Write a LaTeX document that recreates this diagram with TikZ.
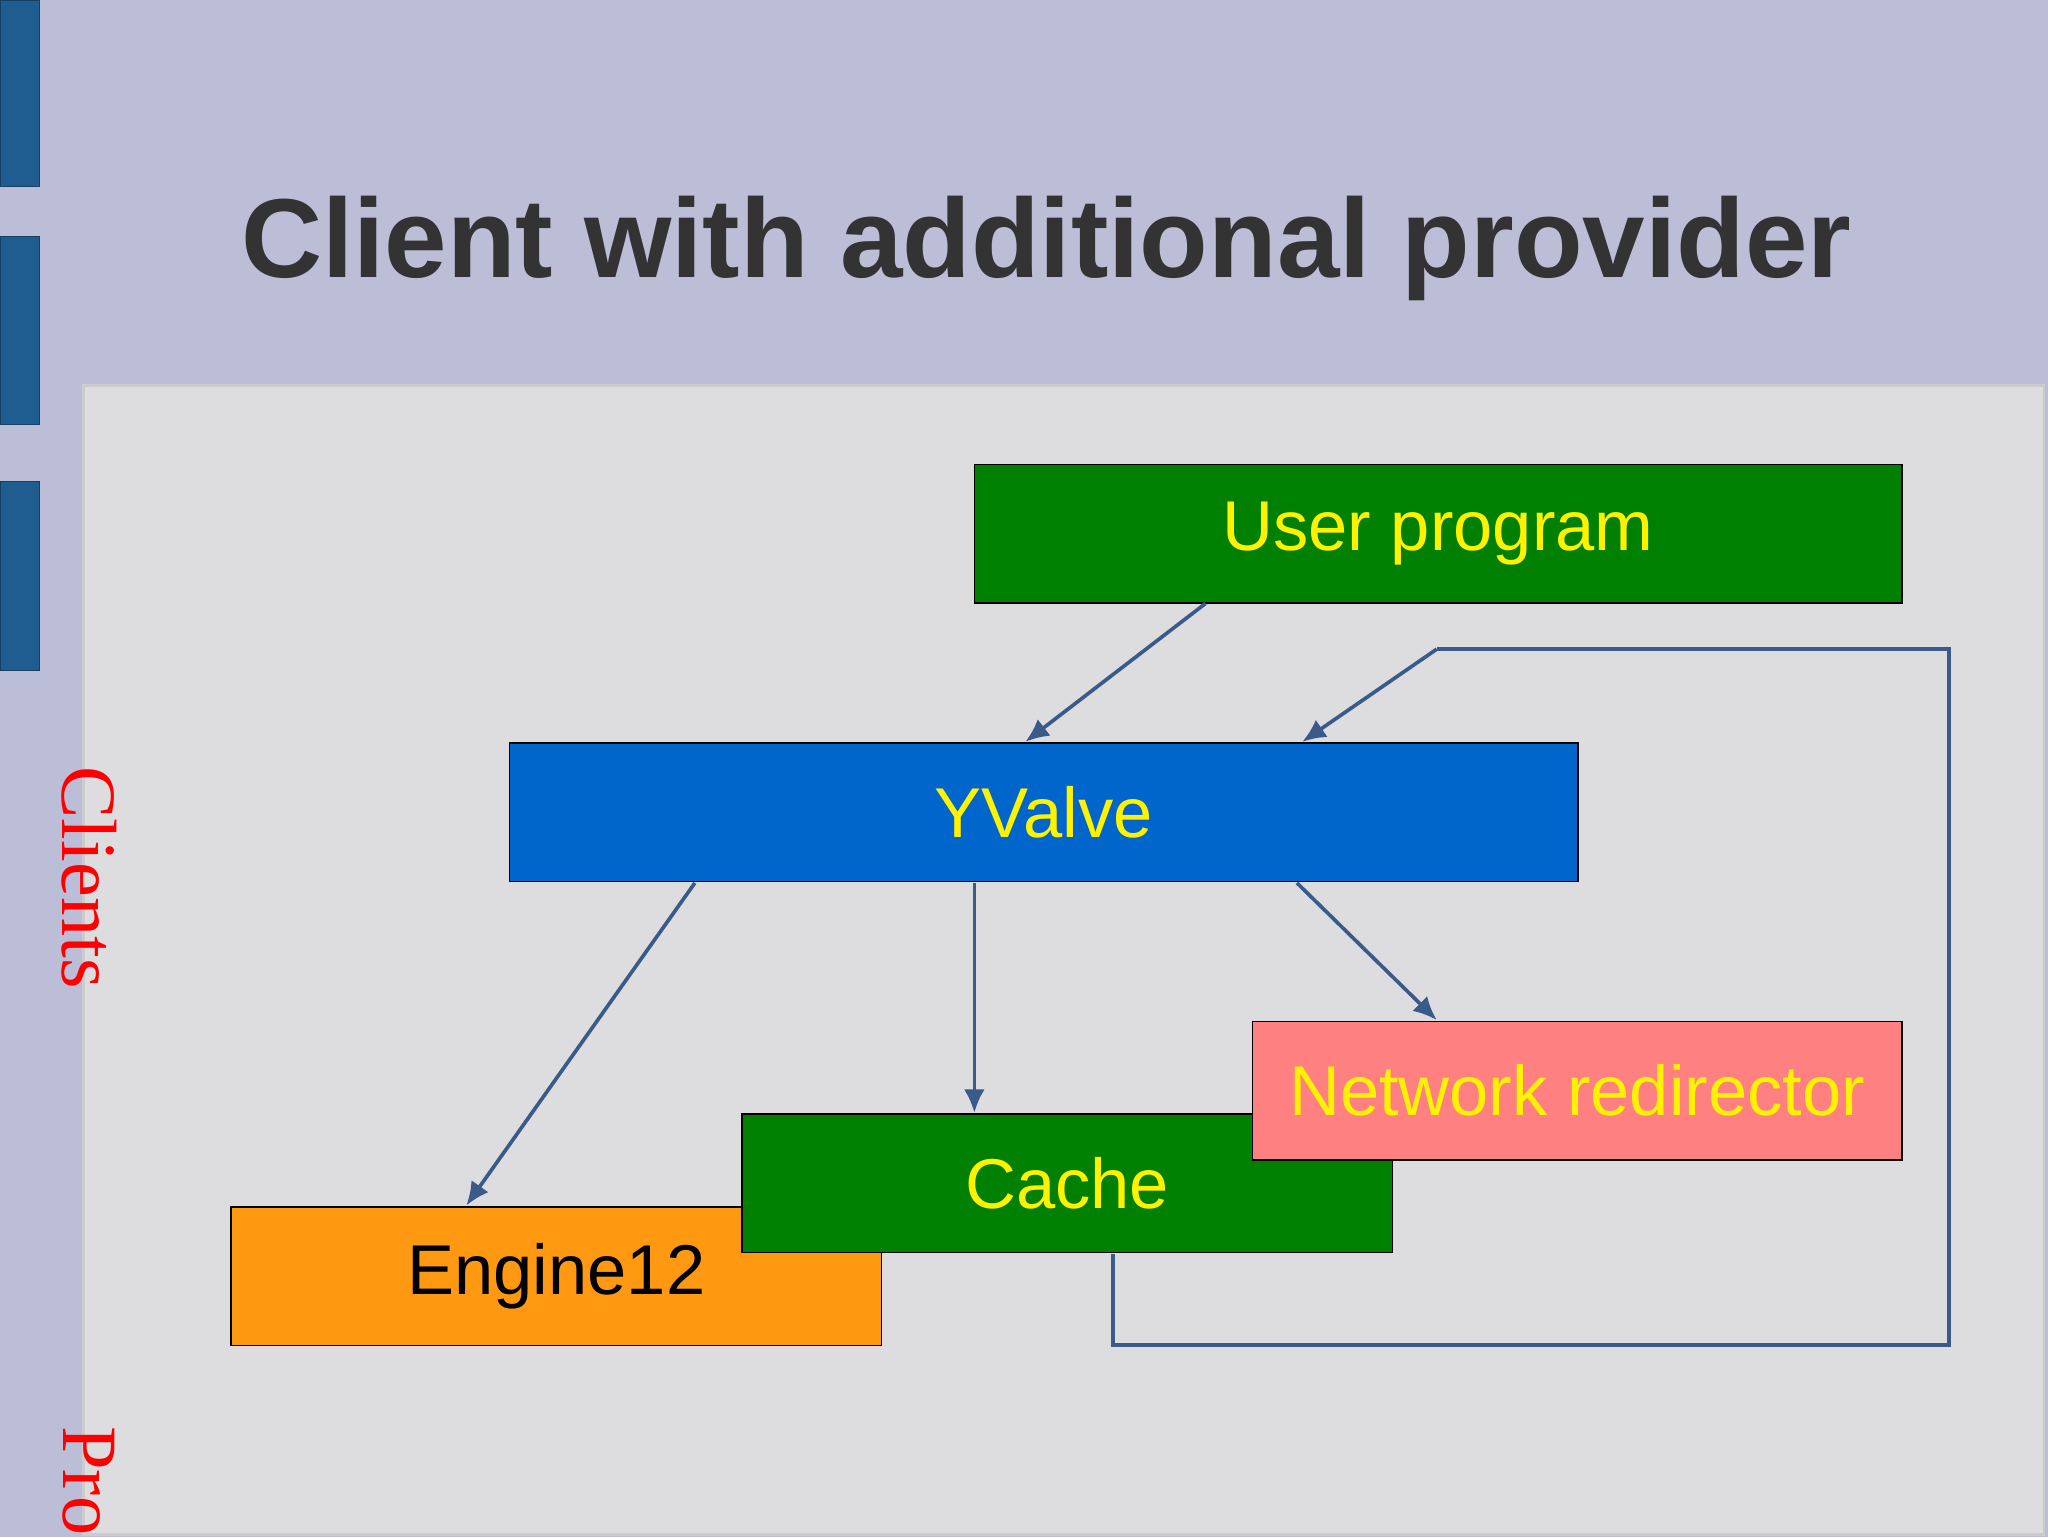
\documentclass[tikz,border=0pt]{standalone}
\usepackage{fontspec}
\setmainfont{Liberation Sans}
\newfontfamily\serifx{Liberation Serif}
\usetikzlibrary{arrows.meta}
\definecolor{band}{HTML}{BBBED6}
\definecolor{panel}{HTML}{DDDDE0}
\definecolor{bar}{HTML}{1F5C8F}
\definecolor{grn}{HTML}{008000}
\definecolor{blu}{HTML}{0066CC}
\definecolor{pnk}{HTML}{FF8080}
\definecolor{org}{HTML}{FF9912}
\definecolor{arr}{HTML}{3A5A8A}
\begin{document}
\begin{tikzpicture}[x=0.5pt,y=-0.5pt,
  box/.style={draw=black,line width=0.6pt,minimum width=#1*0.5pt,minimum height=53pt,inner sep=0pt,font=\fontsize{27}{30}\selectfont,text=yellow},
  con/.style={draw=arr,line width=1.4pt},
  ar/.style={con,-{Latex[length=9pt,width=8pt]}}]
\useasboundingbox (0,0) rectangle (1568,1177);
\fill[band] (0,0) rectangle (1568,1177);
\fill[panel,draw=black!20,line width=1pt] (64,295) rectangle (1565,1175);
\foreach \a/\b in {0/143,181/325,369/513}
  \fill[bar,draw=bar!70!black] (0,\a) rectangle (30,\b);
\node[font=\bfseries\fontsize{43}{48}\selectfont,text=black!80] (title) at (801,190) {Client with additional provider};
\node[box=710,fill=grn] (user) at (1101,408.5) {User program};
\node[box=818,fill=blu] (yv) at (799,622) {YValve};
\node[box=498,fill=org,text=black] (eng) at (426,977) {Engine12};
\node[box=498,fill=grn] (cache) at (817,906) {Cache};
\node[box=497,fill=pnk] (net) at (1207.5,835) {Network redirector};
\node[rotate=-90,text=red,font=\serifx\fontsize{30}{32}\selectfont] (cl) at (68,672) {Clients};
\node[rotate=-90,text=red,font=\serifx\fontsize{30}{32}\selectfont,anchor=west] (pr) at (68,1085) {Pro};
\coordinate (c1) at (1100,497);
\coordinate (c2) at (1492,497);
\coordinate (c3) at (1492,1030);
\coordinate (c4) at (852,1030);
\coordinate (c5) at (852,960);
\draw[ar] (923,462) -- (785,568);
\draw[ar] (c1) -- (997,568);
\draw[con] (c1) -- (c2) -- (c3) -- (c4) -- (c5);
\draw[ar] (532,676) -- (357,923);
\draw[ar] (746,676) -- (746,852);
\draw[ar] (993,676) -- (1100,781);
\end{tikzpicture}
\end{document}
